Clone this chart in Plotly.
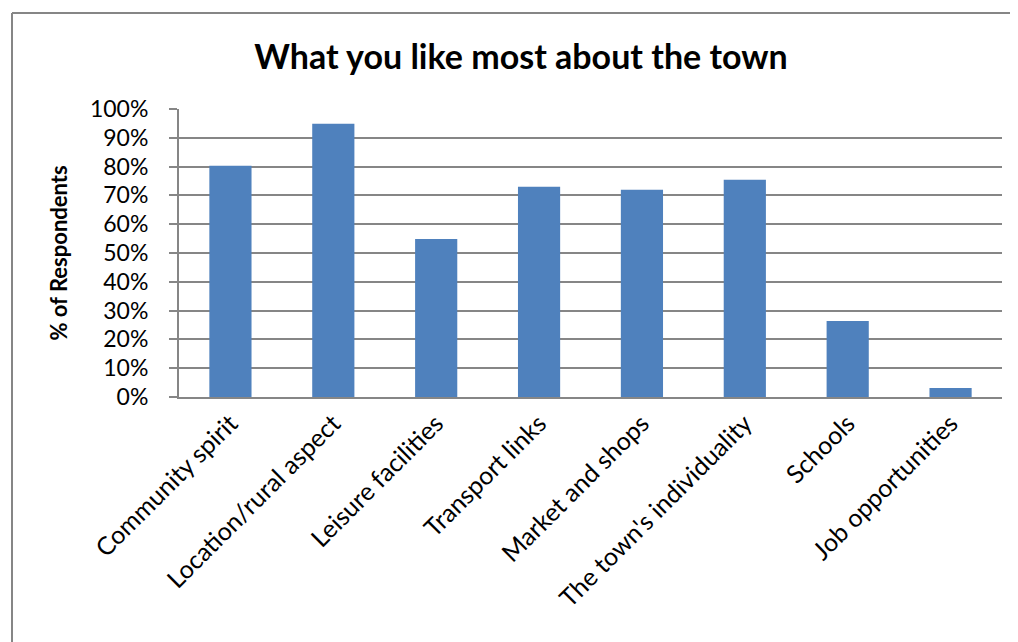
import plotly.graph_objects as go

categories = ["Community spirit", "Location/rural aspect", "Leisure facilities",
              "Transport links", "Market and shops", "The town's individuality",
              "Schools", "Job opportunities"]
values = [80.3, 94.9, 54.9, 73.0, 72.0, 75.4, 26.4, 3.1]
y_ticks = [0, 10, 20, 30, 40, 50, 60, 70, 80, 90, 100]
y_tick_labels = [f"{v}%" for v in y_ticks]

# page body has an 8px margin; figure is sized to fill the rest of the window
OFF = 8
W, H = 1018 - OFF, 642 - OFF
L, T = 179 - OFF, 109 - OFF
R = W - (1002 - OFF)
B = H - (397 - OFF)
pw, ph = W - L - R, H - T - B

fig = go.Figure(go.Bar(x=categories, y=values, marker_color="#4f81bd",
                       marker_line_width=0, width=0.41))

font = "Lato"
bx0 = (12 - OFF - L) / pw          # outer chart border, left edge
by1 = (H - (13 - OFF) - B) / ph    # outer chart border, top edge
fig.update_layout(
    width=W, height=H,
    margin=dict(l=L, r=R, t=T, b=B, pad=0),
    paper_bgcolor="white", plot_bgcolor="white",
    showlegend=False,
    title=dict(text="<b>What you like most about the town</b>",
               x=(521 - OFF) / W, xanchor="center",
               y=1 - (57 - OFF) / H, yanchor="middle",
               font=dict(family=font, size=34, color="black")),
    xaxis=dict(tickangle=-45, tickfont=dict(family=font, size=25, color="black"),
               showline=True, linecolor="#868686", linewidth=2, ticks="",
               range=[-0.5, 7.5]),
    yaxis=dict(range=[0, 100], tickvals=y_ticks, ticktext=y_tick_labels,
               tickfont=dict(family=font, size=23, color="black"),
               showgrid=True, gridcolor="#868686", gridwidth=1.5,
               showline=True, linecolor="#868686", linewidth=2,
               ticks="outside", ticklen=8, tickcolor="#868686", tickwidth=2,
               ticklabelstandoff=16, zeroline=False,
               title=dict(text="<b>% of Respondents</b>", standoff=16,
                          font=dict(family=font, size=22, color="black"))),
    shapes=[
        dict(type="line", xref="paper", yref="paper",
             x0=bx0, x1=bx0, y0=-(B + 20) / ph, y1=by1,
             line=dict(color="#868686", width=2), layer="below"),
        dict(type="line", xref="paper", yref="paper",
             x0=bx0, x1=(W + 20 - L) / pw, y0=by1, y1=by1,
             line=dict(color="#868686", width=2), layer="below"),
    ],
)

fig.write_html("out.html")
